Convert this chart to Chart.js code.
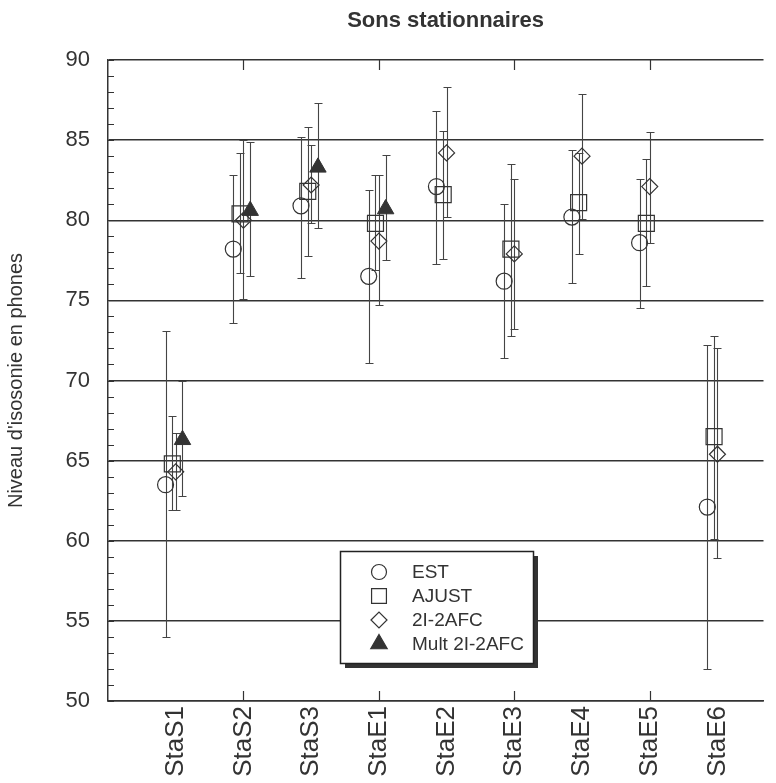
<!DOCTYPE html>
<html>
<head>
<meta charset="utf-8">
<script src="https://cdn.jsdelivr.net/npm/chart.js@4"></script>
<style>
html,body{margin:0;padding:0;background:#fff;}
</style>
</head>
<body>
<canvas id="chart1" width="776" height="783"></canvas>
<script>
var cats = ['StaS1','StaS2','StaS3','StaE1','StaE2','StaE3','StaE4','StaE5','StaE6'];

var estMoy = [63.5, 78.2, 80.9, 76.5, 82.1, 76.2, 80.2, 78.6, 62.1];
var estBas = [54.0, 73.6, 76.4, 71.1, 77.3, 71.4, 76.1, 74.5, 52.0];
var estHaut = [73.1, 82.8, 85.2, 81.9, 86.8, 81.0, 84.4, 82.6, 72.2];

var ajuMoy = [64.8, 80.4, 81.8, 79.8, 81.6, 78.2, 81.1, 79.8, 66.5];
var ajuBas = [61.9, 76.7, 77.8, 76.9, 77.6, 72.8, 77.9, 75.9, 60.1];
var ajuHaut = [67.8, 84.2, 85.8, 82.8, 85.6, 83.5, 84.2, 83.8, 72.8];

var afcMoy = [64.3, 80.0, 82.2, 78.7, 84.2, 77.9, 84.0, 82.1, 65.4];
var afcBas = [61.9, 75.1, 79.8, 74.7, 80.2, 73.2, 80.1, 78.6, 58.9];
var afcHaut = [66.7, 85.0, 84.7, 82.8, 88.3, 82.6, 87.9, 85.5, 72.0];

var multMoy = [66.3, 80.6, 83.3, 80.7, null, null, null, null, null];
var multBas = [62.8, 76.5, 79.5, 77.5, null, null, null, null, null];
var multHaut = [70.0, 84.9, 87.3, 84.1, null, null, null, null, null];

var yTicks = [50, 55, 60, 65, 70, 75, 80, 85, 90];

// decalage horizontal de chaque serie autour de la categorie
var decal = { est: -0.15, aju: -0.05, afc: 0, mult: 0.1 };

function points(moy, bas, haut, d) {
    var out = [];
    for (var i = 0; i < cats.length; i++) {
        if (moy[i] == null) continue;
        out.push({ x: i + 1 + d, y: moy[i], lo: bas[i], hi: haut[i] });
    }
    return out;
}

var encre = '#333';
Chart.defaults.font.family = "'Liberation Sans', Arial, sans-serif";
Chart.defaults.color = encre;

// barres d'erreur
var errorBars = {
    id: 'errorBars',
    beforeDatasetsDraw: function(chart) {
        var ctx = chart.ctx, xs = chart.scales.x, ys = chart.scales.y;
        ctx.save();
        ctx.strokeStyle = '#444';
        ctx.lineWidth = 1.1;
        chart.data.datasets.forEach(function(ds) {
            ds.data.forEach(function(p) {
                var px = Math.round(xs.getPixelForValue(p.x)) + 0.5;
                var top = Math.round(ys.getPixelForValue(p.hi)) + 0.5;
                var bot = Math.round(ys.getPixelForValue(p.lo)) + 0.5;
                ctx.beginPath();
                ctx.moveTo(px, top); ctx.lineTo(px, bot);
                ctx.moveTo(px - 4, top); ctx.lineTo(px + 4, top);
                ctx.moveTo(px - 4, bot); ctx.lineTo(px + 4, bot);
                ctx.stroke();
            });
        });
        ctx.restore();
    }
};

// petites graduations vers l'interieur, titre, legende
var cadre = {
    id: 'cadre',
    afterDraw: function(chart) {
        var ctx = chart.ctx, xs = chart.scales.x, ys = chart.scales.y, a = chart.chartArea;
        ctx.save();
        ctx.strokeStyle = encre;
        ctx.lineWidth = 1.2;
        ctx.beginPath();
        for (var v = 50; v <= 90; v++) {
            var py = Math.round(ys.getPixelForValue(v)) + 0.5;
            ctx.moveTo(a.left, py); ctx.lineTo(a.left + 6, py);
        }
        for (var k = 2; k <= 8; k += 2) {
            var px = Math.round(xs.getPixelForValue(k)) + 0.5;
            ctx.moveTo(px, a.bottom); ctx.lineTo(px, a.bottom - 10);
            ctx.moveTo(px, a.top); ctx.lineTo(px, a.top + 10);
        }
        ctx.stroke();

        // titre
        ctx.fillStyle = encre;
        ctx.font = "bold 22px 'Liberation Sans', Arial, sans-serif";
        ctx.textAlign = 'center';
        ctx.textBaseline = 'middle';
        ctx.fillText('Sons stationnaires', xs.getPixelForValue(5) - 1, 21);

        // legende
        var L = 340, T = 551, W = 193, H = 112;
        ctx.fillStyle = '#333';
        ctx.fillRect(L + 5, T + 5, W, H);
        ctx.fillStyle = '#fff';
        ctx.fillRect(L, T, W, H);
        ctx.strokeStyle = '#222';
        ctx.lineWidth = 1.5;
        ctx.strokeRect(L + 0.5, T + 0.5, W, H);
        ctx.font = "19px 'Liberation Sans', Arial, sans-serif";
        ctx.textAlign = 'left';
        chart.data.datasets.forEach(function(ds, i) {
            var yy = T + 21 + i * 24;
            ctx.fillStyle = ds.backgroundColor;
            ctx.strokeStyle = ds.borderColor;
            ctx.lineWidth = 1.2;
            Chart.helpers.drawPoint(ctx, {
                pointStyle: ds.pointStyle,
                radius: ds.legendRadius,
                rotation: 0,
                borderWidth: 1.2
            }, L + 39, yy);
            ctx.fillStyle = encre;
            ctx.fillText(ds.label, L + 72, yy + 1);
        });
        ctx.restore();
    }
};

var ctx = document.getElementById('chart1').getContext('2d');
var chart = new Chart(ctx, {
    type: 'scatter',
    data: {
        datasets: [{
            label: 'EST',
            data: points(estMoy, estBas, estHaut, decal.est),
            pointStyle: 'circle',
            pointRadius: 8,
            legendRadius: 7.5,
            backgroundColor: 'rgba(0,0,0,0)',
            borderColor: encre,
            borderWidth: 1.2
        }, {
            label: 'AJUST',
            data: points(ajuMoy, ajuBas, ajuHaut, decal.aju),
            pointStyle: 'rect',
            pointRadius: 11.3,
            legendRadius: 10.5,
            backgroundColor: 'rgba(0,0,0,0)',
            borderColor: encre,
            borderWidth: 1.2
        }, {
            label: '2I-2AFC',
            data: points(afcMoy, afcBas, afcHaut, decal.afc),
            pointStyle: 'rectRot',
            pointRadius: 8,
            legendRadius: 8,
            backgroundColor: 'rgba(0,0,0,0)',
            borderColor: encre,
            borderWidth: 1.2
        }, {
            label: 'Mult 2I-2AFC',
            data: points(multMoy, multBas, multHaut, decal.mult),
            pointStyle: 'triangle',
            pointRadius: 9.5,
            legendRadius: 9.5,
            backgroundColor: encre,
            borderColor: encre,
            borderWidth: 1
        }]
    },
    options: {
        responsive: false,
        animation: false,
        devicePixelRatio: 1,
        layout: { padding: { top: 60, right: 0, bottom: 0, left: 0 } },
        plugins: {
            legend: { display: false },
            tooltip: { enabled: false }
        },
        scales: {
            x: {
                type: 'linear',
                min: 0,
                max: 9.68,
                afterFit: function(s) {
                    s.height = 82;
                    s.paddingLeft = 0;
                    s.paddingRight = 0;
                },
                ticks: {
                    stepSize: 1,
                    autoSkip: false,
                    minRotation: 90,
                    maxRotation: 90,
                    padding: 5,
                    font: { size: 26 },
                    callback: function(v) { return cats[v - 1] || ''; }
                },
                grid: { display: false, drawTicks: false },
                border: { color: encre, width: 1.5 }
            },
            y: {
                min: 50,
                max: 90,
                afterFit: function(s) { s.width = 108; },
                afterBuildTicks: function(s) {
                    s.ticks = yTicks.map(function(v) { return { value: v }; });
                },
                ticks: { font: { size: 22 }, padding: 18 },
                grid: { color: encre, lineWidth: 1.5, drawTicks: false },
                border: { color: encre, width: 1.5 },
                title: {
                    display: true,
                    text: "Niveau d'isosonie en phones",
                    font: { size: 20 },
                    padding: { top: 4, bottom: 0 }
                }
            }
        }
    },
    plugins: [errorBars, cadre]
});
</script>
</body>
</html>
